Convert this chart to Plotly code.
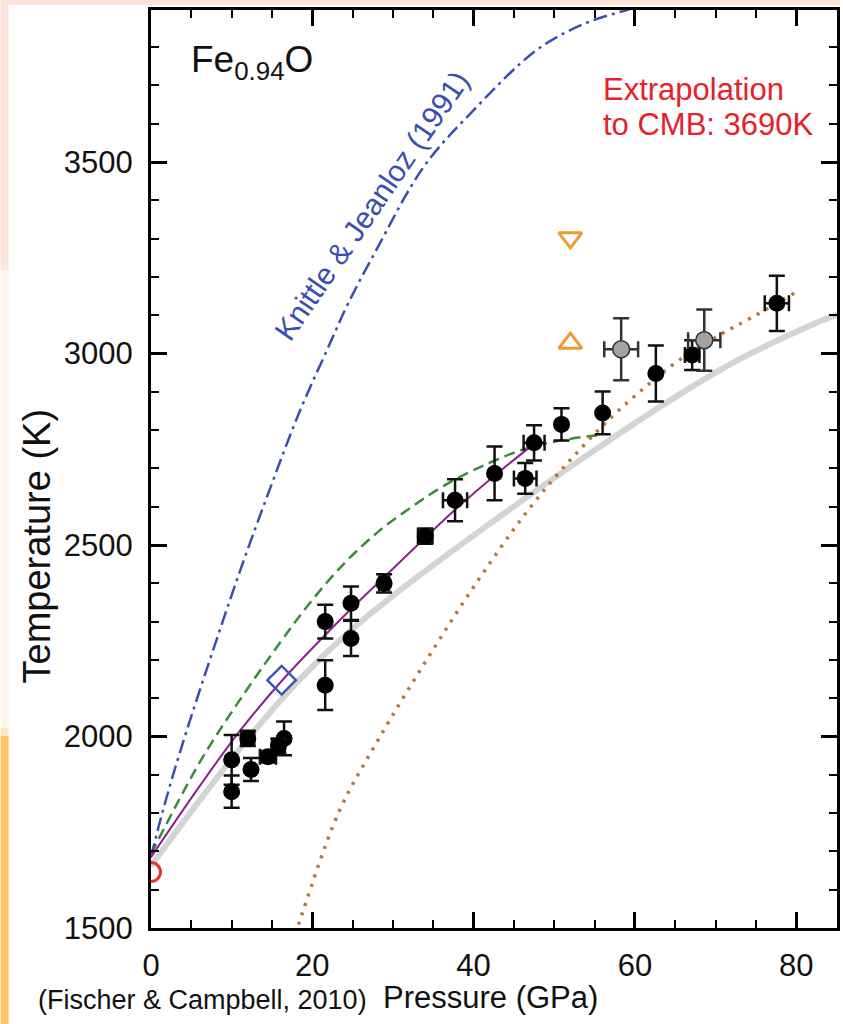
import plotly.graph_objects as go

# ---------------- data ----------------
# Fischer & Campbell (2010) melting points, black
black_P = [10.0, 10.0, 12.0, 12.4, 14.5, 15.8, 16.5, 21.6, 21.6, 24.8, 24.8, 28.9,
           34.0, 37.7, 42.6, 46.4, 47.5, 50.9, 56.0, 62.6, 67.1, 77.6]
black_T = [1939, 1856, 1995, 1914, 1947, 1975, 1995, 2300, 2134, 2348, 2256, 2400,
           2523, 2617, 2687, 2674, 2767, 2815, 2845, 2948, 2996, 3131]
black_dT = [65, 42, 20, 30, 15, 20, 44, 44, 65, 44, 46, 24,
            20, 55, 70, 40, 46, 42, 56, 73, 39, 72]
black_dP = [0, 0, 0.8, 0, 1.0, 0.8, 0, 0, 0, 0, 0, 0.6,
            0.9, 1.5, 0, 1.4, 1.3, 0, 0, 0, 0.9, 1.5]

# grey points
grey_P = [58.3, 68.6]
grey_T = [3011, 3035]
grey_dT = [81, 80]
grey_dP = [2.1, 2.0]

# open symbols
red_circle_P = [0.0]
red_circle_T = [1646]
diamond_P = [16.2]
diamond_T = [2147]
tri_up_P = [52.0]
tri_up_T = [3027]
tri_down_P = [52.0]
tri_down_T = [3302]

# curves
knittle_P = [0.0, 1.1, 2.7, 4.8, 7.5, 11.0, 14.7, 18.4, 22.1, 24.4, 27.8, 33.8, 39.8, 47.8, 53.6, 59.0, 63.5]
knittle_T = [1685, 1777, 1897, 2040, 2213, 2430, 2644, 2847, 3022, 3129, 3265, 3487, 3631, 3792, 3860, 3897, 3923]

green_P = [0.0, 6.05, 11.0, 15.9, 19.6, 24.0, 28.3, 32.3, 36.5, 41.9, 46.4, 50.5, 55.4]
green_T = [1693, 1933, 2095, 2242, 2346, 2453, 2537, 2599, 2657, 2714, 2751, 2772, 2787]

purple_P = [0.0, 6.05, 11.0, 16.2, 21.6, 24.8, 28.9, 34.1, 37.8, 42.7, 47.5]
purple_T = [1685, 1871, 2014, 2145, 2265, 2333, 2416, 2521, 2594, 2683, 2764]

grey_line_P = [0.0, 6.05, 12.2, 18.4, 24.6, 30.7, 41.9, 54.2, 65.3, 72.7, 82.6, 85.1]
grey_line_T = [1662, 1834, 1999, 2148, 2274, 2379, 2554, 2736, 2890, 2982, 3081, 3102]

brown_P = [17.9, 18.4, 23.3, 28.3, 34.8, 40.6, 46.4, 51.3, 57.0, 61.6, 65.3, 70.3, 74.4, 79.8]
brown_T = [1484, 1516, 1803, 1996, 2221, 2409, 2581, 2706, 2832, 2918, 2980, 3046, 3093, 3158]

x_ticks = [0, 20, 40, 60, 80]
y_ticks = [1500, 2000, 2500, 3000, 3500]

FONT = "Liberation Sans, Arial, Helvetica, sans-serif"

fig = go.Figure()

fig.add_trace(go.Scatter(x=grey_line_P, y=grey_line_T, mode="lines", line_shape="spline",
                         line=dict(color="#d4d4d4", width=6), hoverinfo="skip"))
fig.add_trace(go.Scatter(x=brown_P, y=brown_T, mode="lines", line_shape="spline",
                         line=dict(color="#b5773a", width=3.5, dash="3px,7px"), hoverinfo="skip"))
fig.add_trace(go.Scatter(x=green_P, y=green_T, mode="lines", line_shape="spline",
                         line=dict(color="#3a8c38", width=2.5, dash="11px,6px"), hoverinfo="skip"))
fig.add_trace(go.Scatter(x=knittle_P, y=knittle_T, mode="lines", line_shape="spline",
                         line=dict(color="#3a4fae", width=2.5, dash="14px,5px,3px,5px"), hoverinfo="skip"))
fig.add_trace(go.Scatter(x=purple_P, y=purple_T, mode="lines", line_shape="spline",
                         line=dict(color="#8e1f8e", width=2), hoverinfo="skip"))

# black points: split by presence of horizontal error
idx_xy = [i for i in range(len(black_P)) if black_dP[i] > 0]
idx_y = [i for i in range(len(black_P)) if black_dP[i] == 0]
eb = dict(type="data", color="#111111", thickness=2.5, width=8)
fig.add_trace(go.Scatter(
    x=[black_P[i] for i in idx_y], y=[black_T[i] for i in idx_y], mode="markers",
    marker=dict(symbol="circle", size=17, color="black"),
    error_y=dict(array=[black_dT[i] for i in idx_y], **eb)))
fig.add_trace(go.Scatter(
    x=[black_P[i] for i in idx_xy], y=[black_T[i] for i in idx_xy], mode="markers",
    marker=dict(symbol="circle", size=17, color="black"),
    error_y=dict(array=[black_dT[i] for i in idx_xy], **eb),
    error_x=dict(array=[black_dP[i] for i in idx_xy], **eb)))
fig.add_trace(go.Scatter(
    x=grey_P, y=grey_T, mode="markers",
    marker=dict(symbol="circle", size=17, color="#a3a3a3", line=dict(color="#333333", width=1.5)),
    error_y=dict(array=grey_dT, type="data", color="#333333", thickness=2.5, width=8),
    error_x=dict(array=grey_dP, type="data", color="#333333", thickness=2.5, width=8)))

fig.add_trace(go.Scatter(x=red_circle_P, y=red_circle_T, mode="markers",
                         marker=dict(symbol="circle-open", size=19, color="#e8352a", line=dict(width=3))))
fig.add_trace(go.Scatter(x=diamond_P, y=diamond_T, mode="markers",
                         marker=dict(symbol="diamond-open", size=22, color="#3b55b8", line=dict(width=2.5))))
fig.add_trace(go.Scatter(x=tri_up_P, y=tri_up_T, mode="markers",
                         marker=dict(symbol="triangle-up-open", size=20, color="#ef9a2e", line=dict(width=3))))
fig.add_trace(go.Scatter(x=tri_down_P, y=tri_down_T, mode="markers",
                         marker=dict(symbol="triangle-down-open", size=20, color="#ef9a2e", line=dict(width=3))))

axis_common = dict(showline=True, linecolor="black", linewidth=3, mirror="allticks",
                   ticks="inside", ticklen=16, tickwidth=3, tickcolor="black",
                   showgrid=False, zeroline=False,
                   tickfont=dict(family=FONT, size=31, color="#111111"))

fig.update_xaxes(range=[0, 85.06], tickvals=x_ticks, ticktext=[str(v) for v in x_ticks],
                 minor=dict(ticks="inside", ticklen=8, tickwidth=2, tickcolor="black", dtick=5,
                            tick0=0, showgrid=False),
                 ticklabelstandoff=8, **axis_common)
fig.update_yaxes(range=[1500, 3897], tickvals=y_ticks, ticktext=[str(v) for v in y_ticks],
                 minor=dict(ticks="inside", ticklen=8, tickwidth=2, tickcolor="black", dtick=100,
                            tick0=1500, showgrid=False),
                 ticklabelstandoff=9, **axis_common)

W, H = 843, 1024
L, R, T, B = 151, 3, 10, 96
pw, ph = W - L - R, H - T - B


def px(xp):
    return (xp - L) / pw


def py(yp):
    return (H - B - yp) / ph


def ann(text, x, y, size, color="#111111", xanchor="center", angle=0):
    return dict(text=text, x=px(x), y=py(y), xref="paper", yref="paper",
                xanchor=xanchor, yanchor="middle", textangle=angle, showarrow=False,
                font=dict(family=FONT, size=size, color=color))


annotations = [
    ann("Temperature (K)", 37, 546, 38, angle=-90),
    ann("Pressure (GPa)", 492, 997, 31),
    ann("(Fischer & Campbell, 2010)", 35, 1000, 27, xanchor="left"),
    ann("Extrapolation", 603, 90, 31, color="#e8202a", xanchor="left"),
    ann("to CMB: 3690K", 603, 124, 31, color="#e8202a", xanchor="left"),
    ann("Fe<sub>0.94</sub>O", 189, 62, 37, xanchor="left"),
    ann("Knittle & Jeanloz (1991)", 373, 206, 30, color="#3a4fae", angle=-55.5),
]

shapes = [
    # slide background strips
    dict(type="rect", xref="paper", yref="paper", x0=px(0), x1=px(W), y0=py(0), y1=py(5),
         fillcolor="#fde3d8", line=dict(width=0), layer="below"),
    dict(type="rect", xref="paper", yref="paper", x0=px(0), x1=px(8), y0=py(0), y1=py(270),
         fillcolor="#fde5db", line=dict(width=0), layer="below"),
    dict(type="rect", xref="paper", yref="paper", x0=px(0), x1=px(8), y0=py(270), y1=py(728),
         fillcolor="#fef3ee", line=dict(width=0), layer="below"),
    dict(type="rect", xref="paper", yref="paper", x0=px(0), x1=px(8), y0=py(728), y1=py(736),
         fillcolor="#ffe6c0", line=dict(width=0), layer="below"),
    dict(type="rect", xref="paper", yref="paper", x0=px(0), x1=px(8), y0=py(736), y1=py(H),
         fillcolor="#fec862", line=dict(width=0), layer="below"),
]

fig.update_layout(width=W, height=H, margin=dict(l=L, r=R, t=T, b=B),
                  paper_bgcolor="white", plot_bgcolor="white", showlegend=False,
                  annotations=annotations, shapes=shapes,
                  font=dict(family=FONT))

fig.write_html("out.html")
